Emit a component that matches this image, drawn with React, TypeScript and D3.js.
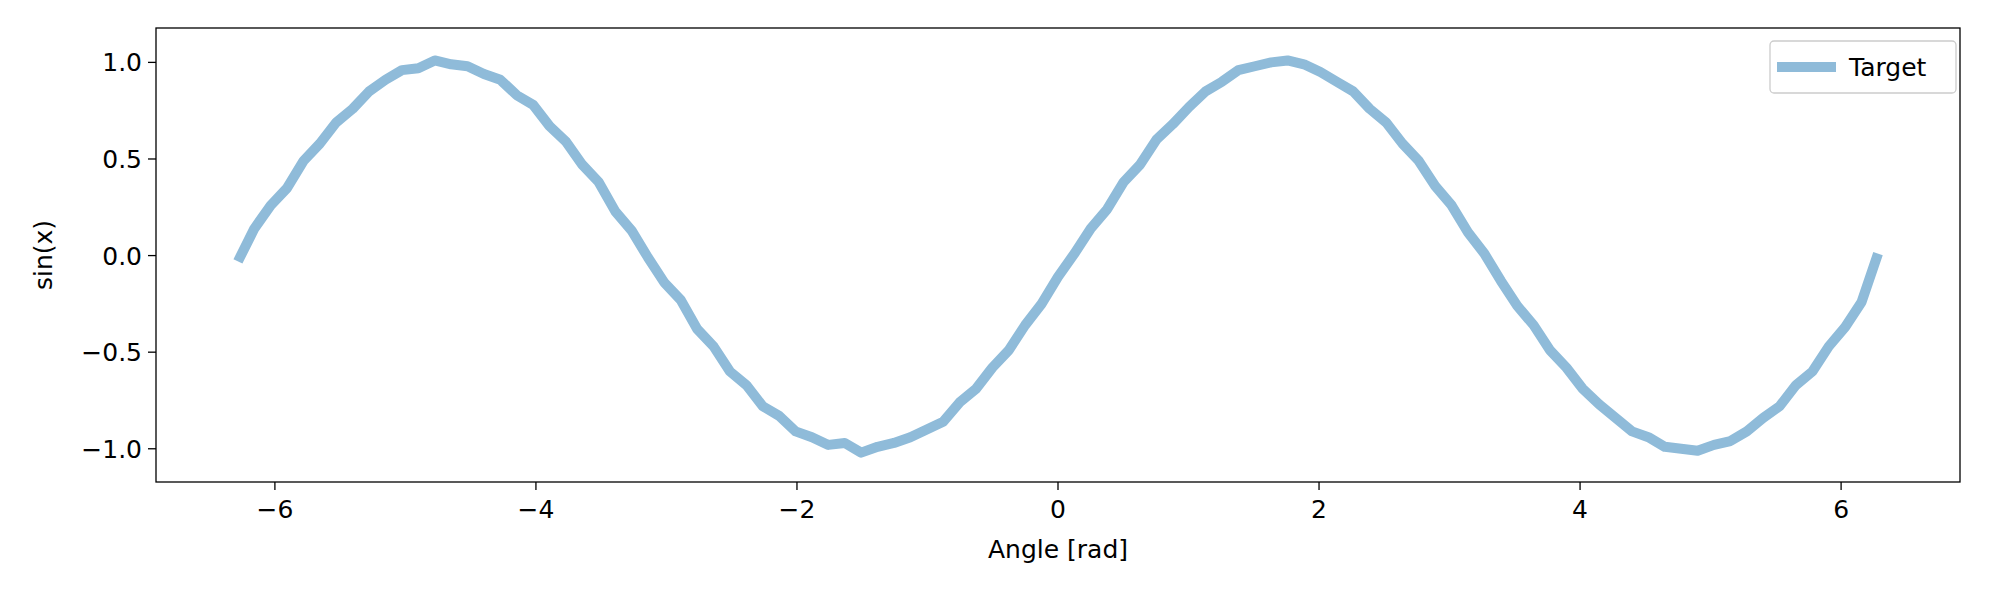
import React from "react";
import * as d3 from "d3";

const W = 2000, H = 600;
const M = { left: 156, right: 40, top: 28, bottom: 118 };

// angles from -2π to 2π, 101 samples
const angleStart = -6.2832;
const angleStep = 0.12566;
const targetValues = [
  -0.03, 0.14, 0.26, 0.35, 0.49, 0.58, 0.69, 0.76, 0.85, 0.91,
  0.96, 0.97, 1.01, 0.99, 0.98, 0.94, 0.91, 0.83, 0.78, 0.67,
  0.59, 0.47, 0.38, 0.23, 0.13, -0.01, -0.14, -0.23, -0.38, -0.47,
  -0.60, -0.67, -0.78, -0.83, -0.91, -0.94, -0.98, -0.97, -1.02, -0.99,
  -0.97, -0.94, -0.90, -0.86, -0.76, -0.69, -0.58, -0.49, -0.36, -0.25,
  -0.11, 0.01, 0.14, 0.24, 0.38, 0.47, 0.60, 0.68, 0.77, 0.85,
  0.90, 0.96, 0.98, 1.00, 1.01, 0.99, 0.95, 0.90, 0.85, 0.76,
  0.69, 0.58, 0.49, 0.36, 0.26, 0.12, 0.01, -0.13, -0.26, -0.36,
  -0.49, -0.58, -0.69, -0.77, -0.84, -0.91, -0.94, -0.99, -1.00, -1.01,
  -0.98, -0.96, -0.91, -0.84, -0.78, -0.67, -0.60, -0.47, -0.37, -0.24,
  0.01,
];
const xTicks = [-6, -4, -2, 0, 2, 4, 6];
const yTicks = [-1.0, -0.5, 0.0, 0.5, 1.0];

const font = "DejaVu Sans, sans-serif";
const fmt = (v: number) => (v < 0 ? "\u2212" + Math.abs(v).toFixed(1) : v.toFixed(1));

export default function App() {
  const x = d3.scaleLinear().domain([-6.911, 6.911]).range([M.left, W - M.right]);
  const y = d3.scaleLinear().domain([-1.172, 1.178]).range([H - M.bottom, M.top]);
  const pts = targetValues.map((v, i) => [angleStart + i * angleStep, v] as [number, number]);
  const line = d3.line<[number, number]>().x(d => x(d[0])).y(d => y(d[1]));
  const fs = 25;
  return (
    <svg width={W} height={H} style={{ position: "absolute", left: 0, top: 0, background: "#fff" }} fontFamily={font}>
      <path d={line(pts)!} fill="none" stroke="#8fbbd9" strokeWidth={10} strokeLinejoin="round" />
      <rect x={M.left} y={M.top} width={W - M.left - M.right} height={H - M.top - M.bottom} fill="none" stroke="#000" strokeWidth={1.3} />
      {xTicks.map(t => (
        <g key={t}>
          <line x1={x(t)} x2={x(t)} y1={H - M.bottom} y2={H - M.bottom + 8} stroke="#000" strokeWidth={1.3} />
          <text x={x(t)} y={H - M.bottom + 36} textAnchor="middle" fontSize={fs}>{t < 0 ? "\u2212" + Math.abs(t) : t}</text>
        </g>
      ))}
      {yTicks.map(t => (
        <g key={t}>
          <line x1={M.left - 8} x2={M.left} y1={y(t)} y2={y(t)} stroke="#000" strokeWidth={1.3} />
          <text x={M.left - 14} y={y(t) + 9} textAnchor="end" fontSize={fs}>{fmt(t)}</text>
        </g>
      ))}
      <text x={(M.left + W - M.right) / 2} y={H - M.bottom + 76} textAnchor="middle" fontSize={fs}>Angle [rad]</text>
      <text transform={`translate(52,${(M.top + H - M.bottom) / 2}) rotate(-90)`} textAnchor="middle" fontSize={fs}>sin(x)</text>
      <g>
        <rect x={1770} y={41} width={186} height={52} rx={4} fill="#fff" stroke="#ccc" strokeWidth={1.3} />
        <line x1={1777} x2={1836} y1={67} y2={67} stroke="#8fbbd9" strokeWidth={10} />
        <text x={1849} y={76} fontSize={fs}>Target</text>
      </g>
    </svg>
  );
}
